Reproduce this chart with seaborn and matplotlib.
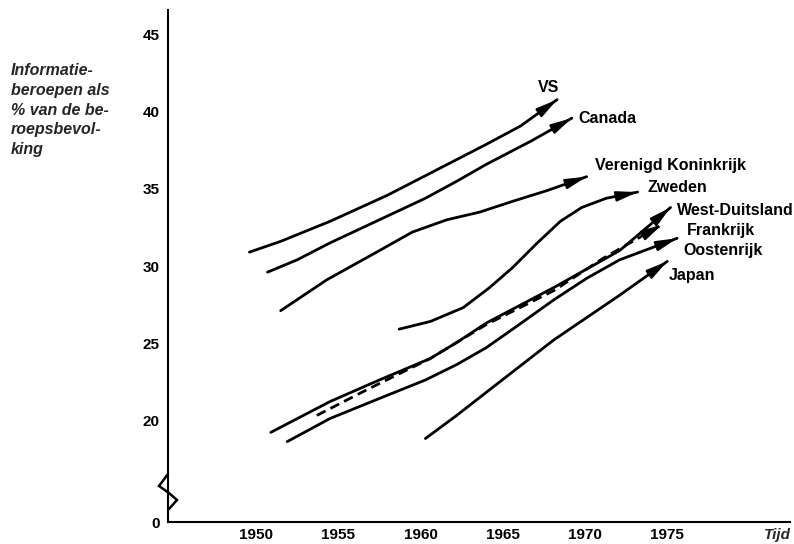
import numpy as np
import pandas as pd
import matplotlib
matplotlib.use("Agg")
import matplotlib.pyplot as plt
import seaborn as sns

# ---------------- data ----------------
countries = ["VS", "Canada", "Verenigd Koninkrijk", "Zweden",
             "West-Duitsland", "Frankrijk", "Oostenrijk", "Japan"]

vs_year = [1949.6, 1951.5, 1954.5, 1958.0, 1960.0, 1962.0, 1964.0, 1966.1, 1968.3]
vs_val = [30.9, 31.6, 32.9, 34.6, 35.7, 36.8, 37.9, 39.1, 40.8]

ca_year = [1950.7, 1952.5, 1954.5, 1957.5, 1960.3, 1962.2, 1964.0, 1966.7, 1969.2]
ca_val = [29.6, 30.4, 31.5, 33.0, 34.4, 35.5, 36.6, 38.1, 39.6]

uk_year = [1951.5, 1954.3, 1957.5, 1959.5, 1961.6, 1963.6, 1965.6, 1967.7, 1970.1]
uk_val = [27.1, 29.1, 31.0, 32.2, 33.0, 33.5, 34.2, 34.9, 35.8]

se_year = [1958.7, 1960.6, 1962.6, 1964.2, 1965.6, 1967.1, 1968.5, 1969.8, 1971.3, 1973.2]
se_val = [25.9, 26.4, 27.3, 28.6, 29.9, 31.5, 32.9, 33.8, 34.4, 34.8]

de_year = [1950.9, 1952.7, 1954.5, 1957.5, 1960.6, 1962.3, 1964.0, 1968.1, 1972.1, 1975.2]
de_val = [19.2, 20.2, 21.2, 22.6, 24.0, 25.1, 26.3, 28.6, 31.0, 33.8]

fr_year = [1953.7, 1956.8, 1960.6, 1964.0, 1968.1, 1971.1, 1974.7]
fr_val = [20.3, 22.0, 24.0, 26.2, 28.4, 30.5, 32.7]

at_year = [1951.9, 1954.5, 1957.5, 1960.3, 1962.2, 1964.0, 1966.0, 1968.1,
           1970.1, 1972.1, 1974.1, 1975.6]
at_val = [18.6, 20.1, 21.4, 22.6, 23.6, 24.7, 26.2, 27.8, 29.2, 30.4, 31.2, 31.8]

jp_year = [1960.3, 1962.2, 1964.0, 1968.1, 1972.1, 1975.0]
jp_val = [18.8, 20.3, 21.8, 25.2, 28.1, 30.3]

series_years = [vs_year, ca_year, uk_year, se_year, de_year, fr_year, at_year, jp_year]
series_vals = [vs_val, ca_val, uk_val, se_val, de_val, fr_val, at_val, jp_val]

label_x = [1967.8, 1969.6, 1970.6, 1973.8, 1975.6, 1976.2, 1976.0, 1975.1]
label_y = [41.6, 39.6, 36.5, 35.1, 33.6, 32.3, 31.0, 29.4]

x_ticks = [1950, 1955, 1960, 1965, 1970, 1975, 1980]
x_ticklabels = ["1950", "1955", "1960", "1965", "1970", "1975", ""]
y_ticks = [20, 25, 30, 35, 40, 45]
y_ticklabels = ["20", "25", "30", "35", "40", "45"]
y_zero_label = "0"
x_axis_title = "Tijd"
y_axis_title = "Informatie-\nberoepen als\n% van de be-\nroepsbevol-\nking"

# ---------------- build long table ----------------
rows = []
for c, ys, vs in zip(countries, series_years, series_vals):
    for yr, v in zip(ys, vs):
        rows.append({"jaar": yr, "pct": v, "land": c})
df = pd.DataFrame(rows)

# ---------------- figure ----------------
sns.set_theme(style="white")
plt.rcParams["font.family"] = ["Liberation Sans", "DejaVu Sans"]

W, H = 794, 544
fig = plt.figure(figsize=(W / 100, H / 100), dpi=100)
ax_left, ax_bottom, ax_right, ax_top = 168, 522, 790, 10
ax = fig.add_axes([ax_left / W, 1 - ax_bottom / H,
                   (ax_right - ax_left) / W, (ax_bottom - ax_top) / H])

y_bottom = 13.38   # axis position that carries the "0" label (axis break)
ax.set_xlim(1944.65, 1982.46)
ax.set_ylim(y_bottom, 46.62)

palette = {c: "black" for c in countries}
dashes = {c: "" for c in countries}
dashes["Frankrijk"] = (3.5, 2.0)
sns.lineplot(data=df, x="jaar", y="pct", hue="land", style="land",
             units="land", estimator=None, sort=False, palette=palette,
             dashes=dashes, linewidth=2.0, legend=False, ax=ax)
for ln in ax.get_lines():
    ln.set_solid_joinstyle("round")
    ln.set_solid_capstyle("round")

# arrowheads
fig.canvas.draw()
for ys, vs in zip(series_years, series_vals):
    p1 = ax.transData.transform((ys[-2], vs[-2]))
    p2 = ax.transData.transform((ys[-1], vs[-1]))
    d = (p2 - p1) / np.hypot(*(p2 - p1))
    back = d * 13.0  # points
    ax.annotate("", xy=(ys[-1], vs[-1]), xytext=(-back[0], -back[1]),
                textcoords="offset points",
                arrowprops=dict(arrowstyle="-|>,head_length=1.05,head_width=0.25",
                                mutation_scale=12, color="black", lw=1.6,
                                shrinkA=0, shrinkB=0))

# country labels
for i, (c, lx, ly) in enumerate(zip(countries, label_x, label_y)):
    ax.text(lx, ly, c, ha="center" if i == 0 else "left", va="center",
            fontsize=11.5, fontweight="bold", color="black")

# axes styling
for s in ["top", "right"]:
    ax.spines[s].set_visible(False)
for s in ["left", "bottom"]:
    ax.spines[s].set_color("black")
    ax.spines[s].set_linewidth(1.5)

ax.set_xticks(x_ticks)
ax.set_xticklabels(x_ticklabels)
ax.set_yticks([y_bottom] + y_ticks)
ax.set_yticklabels([y_zero_label] + y_ticklabels)
ax.tick_params(axis="x", direction="in", length=5, width=1.5, pad=4,
               labelsize=11, colors="black")
ax.tick_params(axis="y", direction="in", length=7, width=1.5, pad=6,
               labelsize=11, colors="black")
for t in ax.get_xticklabels() + ax.get_yticklabels():
    t.set_fontweight("bold")
ax.set_xlabel("")
ax.set_ylabel("")
ax.grid(False)

# x axis title "Tijd"
ax.text((777 - ax_left) / (ax_right - ax_left), -(535 - ax_bottom) / (ax_bottom - ax_top),
        x_axis_title, transform=ax.transAxes, ha="center", va="center",
        fontsize=11, fontweight="bold", fontstyle="italic", clip_on=False)

# y axis title
fig.text(11 / W, 1 - 63 / H, y_axis_title, ha="left", va="top",
         fontsize=11.5, fontweight="bold", fontstyle="italic",
         linespacing=1.4)

# axis-break zigzag
zz_px = [(168, 474), (159, 486), (169, 493), (177, 500), (169, 509)]
zx = [(px - ax_left) / (ax_right - ax_left) for px, py in zz_px]
zy = [(ax_bottom - py) / (ax_bottom - ax_top) for px, py in zz_px]
ax.plot(zx, zy, transform=ax.transAxes, color="black", lw=1.8, clip_on=False,
        solid_joinstyle="miter")

fig.savefig("out.png", dpi=100)
